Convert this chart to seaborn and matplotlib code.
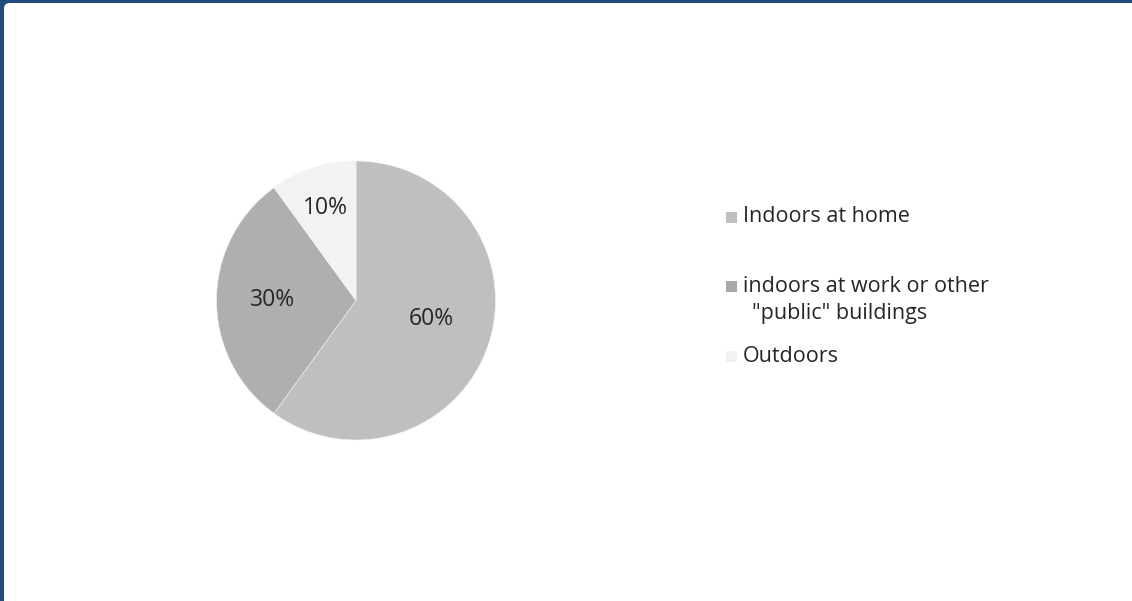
import numpy as np
import matplotlib
matplotlib.use("Agg")
import matplotlib.pyplot as plt
from matplotlib.patches import FancyBboxPatch, Rectangle
import seaborn as sns

categories = ["Indoors at home", "indoors at work or other\n\"public\" buildings", "Outdoors"]
shares = [60, 30, 10]
slice_colors = ["#bfbfbf", "#afafaf", "#f2f2f2"]
legend_colors = ["#bfbfbf", "#a9a9a9", "#f2f2f2"]

sns.set_theme(style="white")
plt.rcParams["font.family"] = ["Open Sans", "DejaVu Sans"]

W, H = 1132, 601
FS = 15.5
PIE_FS = 16.5
TXT = "#262626"
fig = plt.figure(figsize=(W / 100, H / 100), dpi=100, facecolor="#1f4b7d")

# white card with a rounded top-left corner, leaving a thin blue frame on top and left
card = FancyBboxPatch((4 / W, -0.05), 1.2, (H - 3) / H + 0.05,
                      boxstyle="round,pad=0,rounding_size=0.005",
                      transform=fig.transFigure, facecolor="white",
                      edgecolor="none", mutation_aspect=W / H, zorder=-10)
fig.patches.append(card)

cx, cy, r = 356, 300.5, 139.5
ax = fig.add_axes([(cx - r) / W, (H - cy - r) / H, 2 * r / W, 2 * r / H])
ax.set_facecolor("none")
ax.set_zorder(5)

wedges, _, autotexts = ax.pie(
    shares, colors=slice_colors, startangle=90, counterclock=False,
    autopct=lambda p: f"{p:.0f}%", pctdistance=0.6,
    wedgeprops=dict(linewidth=0.4, edgecolor="#f4f4f4"),
    textprops=dict(fontsize=PIE_FS, color=TXT),
)
ax.set_xlim(-1, 1)
ax.set_ylim(-1, 1)
ax.set_aspect("equal")
ax.axis("off")

# per-slice label distances and angular nudges
label_dist = [0.56, 0.60, 0.70]
label_shift = [4, 0, 0]
for w, t, d, s in zip(wedges, autotexts, label_dist, label_shift):
    ang = np.deg2rad((w.theta1 + w.theta2) / 2 + s)
    t.set_position((d * np.cos(ang), d * np.sin(ang)))
    t.set_ha("center")
    t.set_va("center")

# legend on the right
entry_y = [217, 286, 356]
for label, col, y in zip(categories, legend_colors, entry_y):
    fig.patches.append(Rectangle((726 / W, (H - y - 6) / H), 11 / W, 11 / H,
                                 transform=fig.transFigure, facecolor=col,
                                 edgecolor="none", zorder=6))
    lines = label.split("\n")
    fig.text(743 / W, (H - y) / H, lines[0], fontsize=FS, color=TXT,
             ha="left", va="center")
    for k, extra in enumerate(lines[1:], start=1):
        fig.text(752 / W, (H - y - 27 * k) / H, extra, fontsize=FS,
                 color=TXT, ha="left", va="center")

fig.savefig("out.png", dpi=100, facecolor=fig.get_facecolor())
